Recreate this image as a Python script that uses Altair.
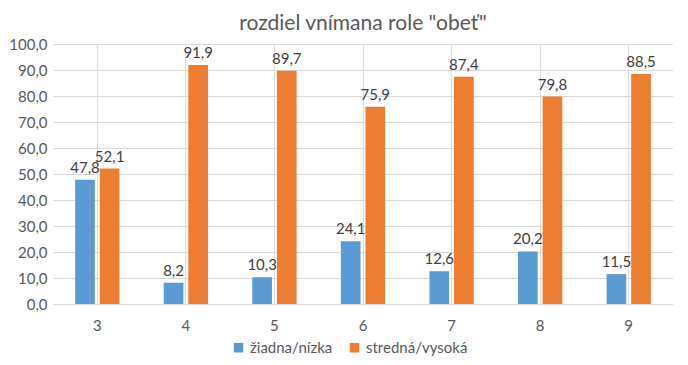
import altair as alt
import pandas as pd

categories = ["3", "4", "5", "6", "7", "8", "9"]
low = [47.8, 8.2, 10.3, 24.1, 12.6, 20.2, 11.5]
high = [52.1, 91.9, 89.7, 75.9, 87.4, 79.8, 88.5]
series_names = ["žiadna/nízka", "stredná/vysoká"]
colors = ["#5B9BD5", "#ED7D31"]

rows = []
for c, a, b in zip(categories, low, high):
    rows.append({"cat": c, "series": series_names[0], "v": a, "lbl": f"{a:.1f}".replace(".", ",")})
    rows.append({"cat": c, "series": series_names[1], "v": b, "lbl": f"{b:.1f}".replace(".", ",")})
df = pd.DataFrame(rows)

FONT = "Lato"

x = alt.X("cat:N", sort=categories, title=None,
          scale=alt.Scale(paddingInner=0.5, paddingOuter=0.25),
          axis=alt.Axis(labelAngle=0, ticks=False, domain=True, domainColor="#D9D9D9",
                        labelFontSize=15, labelColor="#595959", labelPadding=14, labelFont=FONT))
xo = alt.XOffset("series:N", sort=series_names, scale=alt.Scale(paddingInner=0.2, paddingOuter=0))
y = alt.Y("v:Q", title=None,
          scale=alt.Scale(domain=[0, 100], nice=False),
          axis=alt.Axis(values=list(range(0, 101, 10)), ticks=False, domain=False,
                        labelExpr="replace(format(datum.value, '.1f'), '.', ',')",
                        gridColor="#D9D9D9", labelFontSize=15, labelColor="#595959",
                        labelPadding=6, labelFont=FONT))
color = alt.Color("series:N", sort=series_names,
                  scale=alt.Scale(domain=series_names, range=colors),
                  legend=alt.Legend(title=None, orient="none", direction="horizontal",
                                    legendX=178, legendY=296,
                                    symbolType="square", symbolSize=90, symbolStrokeWidth=0,
                                    labelFontSize=15, labelColor="#595959", labelFont=FONT,
                                    columnPadding=14, symbolOffset=0, padding=0))

bars = alt.Chart(df).mark_bar().encode(x=x, xOffset=xo, y=y, color=color)
text = alt.Chart(df).mark_text(dy=-12, fontSize=15, color="#404040", font=FONT).encode(
    x=x, xOffset=xo, y=y, text="lbl:N")

chart = (bars + text).properties(
    width=620, height=260,
    title=alt.TitleParams('rozdiel vnímana role "obeť"', fontSize=21, font=FONT,
                          fontWeight="normal", color="#595959", anchor="middle", offset=3),
    padding={"left": 0, "top": 5, "right": 0, "bottom": 0},
).configure_view(stroke=None).configure_axis(grid=True)

chart.save("out.html", embed_options={"renderer": "svg", "actions": False})
